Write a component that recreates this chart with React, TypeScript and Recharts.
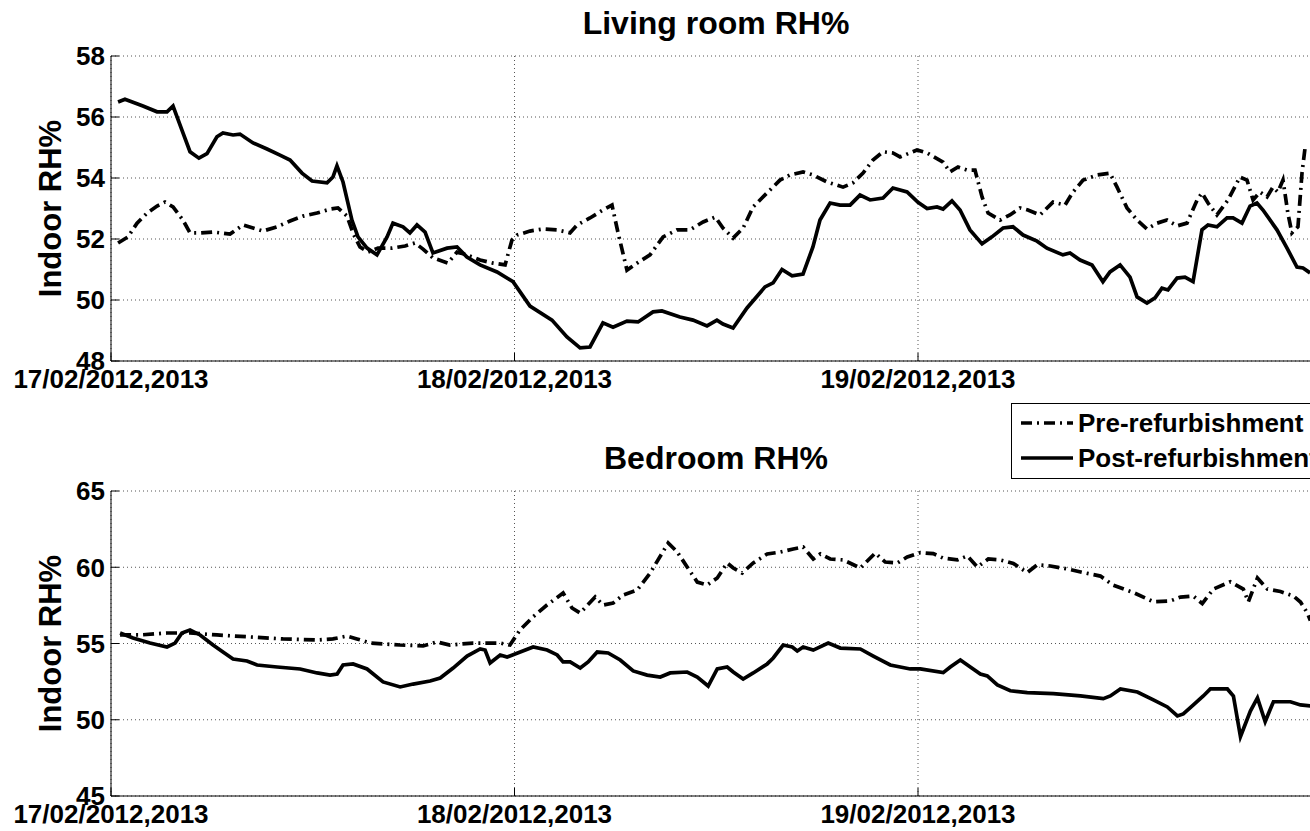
import React from 'react';
import { LineChart, Line, XAxis, YAxis, CartesianGrid, Label } from 'recharts';

// hours since 17/02 00:00 and RH%
const livingPreHours = [0.42, 1.01, 1.55, 2.14, 2.74, 3.21, 3.69, 4.28, 4.7, 5.29, 6.07, 7.08, 7.85, 8.45, 9.04, 9.87, 10.65, 11.42, 12.25, 13.03, 13.5, 14.04, 14.39, 14.81, 15.29, 15.88, 16.71, 17.49, 18.08, 18.56, 19.15, 20.04, 20.58, 21.17, 21.95, 22.72, 23.44, 23.85, 24.15, 24.92, 25.7, 26.53, 27.3, 27.72, 28.49, 29.26, 29.8, 30.16, 30.69, 31.29, 32.06, 32.84, 33.67, 34.44, 35.22, 35.94, 36.4, 37.0, 37.6, 38.19, 39.02, 39.79, 40.39, 41.16, 41.75, 42.59, 43.54, 44.13, 44.73, 45.32, 45.92, 46.51, 46.93, 47.94, 48.54, 49.49, 49.9, 50.38, 50.91, 51.39, 51.81, 52.17, 52.88, 53.47, 54.07, 54.54, 55.26, 56.03, 56.74, 57.22, 57.82, 58.65, 59.42, 59.84, 60.43, 61.03, 61.62, 62.22, 62.81, 63.41, 64.0, 64.6, 64.89, 65.25, 65.78, 66.44, 67.15, 67.57, 67.93, 68.34, 68.76, 69.11, 69.41, 69.71, 70.0, 70.24, 70.6, 70.84, 71.02, 71.2];
const livingPreRH = [51.87, 52.07, 52.52, 52.85, 53.08, 53.21, 53.05, 52.62, 52.2, 52.2, 52.23, 52.16, 52.46, 52.36, 52.26, 52.4, 52.59, 52.75, 52.85, 52.98, 53.02, 52.75, 52.2, 51.74, 51.57, 51.7, 51.7, 51.77, 51.87, 51.67, 51.38, 51.21, 51.57, 51.48, 51.31, 51.21, 51.15, 51.97, 52.13, 52.26, 52.33, 52.3, 52.2, 52.46, 52.69, 52.95, 53.11, 52.2, 50.98, 51.21, 51.48, 52.07, 52.3, 52.3, 52.56, 52.72, 52.36, 52.03, 52.36, 53.05, 53.51, 53.93, 54.1, 54.2, 54.1, 53.87, 53.7, 53.84, 54.16, 54.59, 54.86, 54.82, 54.69, 54.92, 54.82, 54.52, 54.2, 54.36, 54.26, 54.26, 53.38, 52.85, 52.62, 52.79, 53.02, 52.95, 52.79, 53.21, 53.11, 53.54, 53.93, 54.1, 54.16, 53.7, 53.02, 52.62, 52.33, 52.52, 52.62, 52.43, 52.52, 53.28, 53.51, 53.18, 52.79, 53.28, 54.03, 53.93, 53.28, 53.54, 53.38, 53.7, 53.54, 53.93, 52.85, 52.2, 52.4, 54.16, 54.98, 54.92];

const livingPostHours = [0.42, 0.83, 1.9, 2.74, 3.33, 3.69, 4.22, 4.7, 5.23, 5.71, 6.3, 6.66, 7.26, 7.67, 8.45, 9.28, 10.05, 10.65, 11.36, 11.96, 12.85, 13.2, 13.44, 13.8, 14.33, 14.69, 15.23, 15.82, 16.42, 16.77, 17.37, 17.78, 18.2, 18.68, 19.15, 19.99, 20.58, 21.17, 21.95, 22.96, 23.91, 24.92, 26.23, 27.12, 27.9, 28.49, 29.26, 29.86, 30.69, 31.35, 32.24, 32.77, 33.84, 34.62, 35.45, 36.04, 36.4, 37.0, 37.83, 38.9, 39.38, 39.91, 40.51, 41.16, 41.75, 42.17, 42.77, 43.36, 43.96, 44.55, 45.15, 45.92, 46.51, 47.35, 48.0, 48.54, 49.13, 49.49, 50.02, 50.5, 51.09, 51.81, 52.4, 53.06, 53.65, 54.25, 55.08, 55.67, 56.62, 57.04, 57.64, 58.35, 59.0, 59.42, 60.02, 60.61, 61.03, 61.62, 62.1, 62.51, 62.87, 63.41, 63.88, 64.36, 64.89, 65.25, 65.78, 66.38, 66.74, 67.27, 67.75, 68.16, 68.52, 69.35, 69.95, 70.54, 70.9, 71.32];
const livingPostRH = [56.49, 56.58, 56.36, 56.17, 56.17, 56.36, 55.57, 54.86, 54.65, 54.8, 55.35, 55.48, 55.41, 55.44, 55.15, 54.95, 54.75, 54.59, 54.16, 53.9, 53.84, 54.03, 54.4, 53.87, 52.62, 52.07, 51.7, 51.48, 52.07, 52.52, 52.4, 52.2, 52.46, 52.23, 51.54, 51.7, 51.74, 51.41, 51.15, 50.92, 50.6, 49.8, 49.34, 48.79, 48.43, 48.46, 49.25, 49.11, 49.31, 49.28, 49.61, 49.64, 49.44, 49.34, 49.15, 49.34, 49.21, 49.08, 49.74, 50.43, 50.56, 51.0, 50.79, 50.85, 51.74, 52.62, 53.18, 53.11, 53.11, 53.44, 53.28, 53.34, 53.67, 53.54, 53.2, 53.0, 53.05, 52.98, 53.25, 52.95, 52.3, 51.84, 52.07, 52.36, 52.4, 52.13, 51.93, 51.7, 51.48, 51.54, 51.31, 51.15, 50.6, 50.92, 51.15, 50.75, 50.1, 49.9, 50.07, 50.39, 50.33, 50.72, 50.75, 50.6, 52.3, 52.46, 52.4, 52.69, 52.69, 52.52, 53.08, 53.18, 52.95, 52.3, 51.7, 51.08, 51.05, 50.89];

const bedroomPreHours = [0.54, 1.73, 3.33, 4.7, 6.3, 8.27, 10.23, 12.25, 13.2, 14.04, 14.63, 15.41, 17.19, 18.56, 19.39, 20.16, 21.53, 23.14, 23.73, 24.33, 25.1, 25.93, 26.89, 27.42, 27.9, 28.8, 29.27, 29.87, 30.46, 31.3, 32.07, 32.78, 33.14, 33.68, 34.27, 34.87, 35.46, 36.06, 36.65, 37.01, 37.54, 38.2, 39.03, 39.81, 40.58, 41.17, 41.77, 42.19, 42.78, 43.55, 44.57, 45.46, 46.05, 46.77, 47.36, 48.14, 48.91, 49.5, 50.34, 50.93, 51.53, 52.18, 52.9, 53.67, 54.5, 55.1, 55.87, 56.88, 57.83, 58.85, 59.62, 60.81, 62.0, 63.01, 63.61, 64.38, 64.91, 65.57, 66.58, 67.35, 67.65, 68.19, 68.78, 69.56, 70.33, 70.75, 71.16, 71.34];
const bedroomPreRH = [55.56, 55.56, 55.69, 55.69, 55.56, 55.43, 55.3, 55.23, 55.3, 55.49, 55.3, 55.03, 54.9, 54.84, 55.1, 54.9, 55.03, 55.03, 54.9, 55.89, 56.74, 57.52, 58.31, 57.33, 57.0, 58.05, 57.52, 57.66, 58.18, 58.51, 59.62, 60.93, 61.59, 61.0, 60.02, 59.03, 58.84, 59.3, 60.28, 59.95, 59.62, 60.28, 60.87, 61.0, 61.2, 61.33, 60.54, 60.87, 60.54, 60.48, 59.95, 60.93, 60.34, 60.28, 60.67, 60.96, 60.89, 60.6, 60.48, 60.74, 60.02, 60.54, 60.48, 60.25, 59.65, 60.17, 60.08, 59.89, 59.65, 59.42, 58.82, 58.34, 57.74, 57.79, 58.04, 58.11, 57.62, 58.57, 59.05, 58.57, 57.74, 59.3, 58.57, 58.41, 58.11, 57.72, 57.0, 56.5];

const bedroomPostHours = [0.54, 1.31, 2.32, 3.33, 3.81, 4.22, 4.7, 5.3, 6.07, 6.66, 7.26, 8.09, 8.69, 9.88, 11.25, 12.26, 13.03, 13.45, 13.8, 14.4, 15.23, 16.18, 17.2, 17.97, 18.98, 19.58, 20.35, 21.18, 21.96, 22.25, 22.55, 23.15, 23.56, 24.34, 25.11, 25.94, 26.54, 26.89, 27.31, 27.91, 28.38, 28.92, 29.57, 30.29, 31.06, 31.89, 32.67, 33.26, 34.27, 34.87, 35.52, 36.06, 36.65, 37.01, 37.6, 38.2, 39.03, 39.39, 39.98, 40.52, 40.82, 41.17, 41.77, 42.66, 43.38, 44.57, 45.34, 46.35, 47.54, 48.14, 49.5, 49.92, 50.52, 51.11, 51.71, 52.12, 52.72, 53.49, 54.5, 56.05, 57.66, 59.02, 59.44, 60.04, 61.05, 62.0, 62.83, 63.43, 63.78, 64.38, 64.97, 65.39, 66.4, 66.76, 67.18, 67.77, 68.19, 68.65, 69.14, 70.15, 70.75, 71.34];
const bedroomPostRH = [55.69, 55.36, 55.03, 54.77, 55.03, 55.69, 55.89, 55.56, 54.9, 54.44, 53.98, 53.85, 53.59, 53.46, 53.33, 53.07, 52.93, 53.0, 53.59, 53.66, 53.33, 52.48, 52.15, 52.34, 52.54, 52.74, 53.39, 54.18, 54.64, 54.57, 53.72, 54.25, 54.11, 54.44, 54.77, 54.57, 54.25, 53.79, 53.79, 53.39, 53.79, 54.44, 54.38, 53.92, 53.2, 52.93, 52.8, 53.07, 53.13, 52.8, 52.21, 53.33, 53.46, 53.13, 52.67, 53.07, 53.66, 54.05, 54.9, 54.77, 54.51, 54.77, 54.57, 55.03, 54.7, 54.64, 54.18, 53.59, 53.33, 53.33, 53.09, 53.46, 53.92, 53.46, 53.0, 52.87, 52.28, 51.9, 51.78, 51.71, 51.56, 51.38, 51.56, 52.02, 51.82, 51.3, 50.84, 50.25, 50.38, 50.97, 51.56, 52.02, 52.02, 51.56, 48.9, 50.57, 51.43, 49.88, 51.18, 51.18, 50.97, 50.9];

const dayTicks = [0, 24, 48];
const dayLabels = ['17/02/2012,2013', '18/02/2012,2013', '19/02/2012,2013'];
const livingTicks = [48, 50, 52, 54, 56, 58];
const bedroomTicks = [45, 50, 55, 60, 65];
const seriesNames = ['Pre-refurbishment', 'Post-refurbishment'];

const FONT = '"Liberation Sans", Arial, Helvetica, sans-serif';
const DASH_DOT = '11 5 2 5';

const zip = (hours: number[], rh: number[]) => hours.map((h, i) => ({ h, rh: rh[i] }));

const YTick = (props: any) => {
  const { x, y, payload } = props;
  return (
    <g>
      <line x1={x} x2={x + 8} y1={y} y2={y} stroke="#000" strokeWidth={1} />
      <text x={x - 6} y={y} dy="0.36em" textAnchor="end" fontFamily={FONT} fontWeight="bold" fontSize={26} fill="#000">
        {payload.value}
      </text>
    </g>
  );
};

const XTick = (props: any) => {
  const { x, y, payload } = props;
  const idx = dayTicks.indexOf(payload.value);
  return (
    <g>
      <line x1={x} x2={x} y1={y} y2={y - 8} stroke="#000" strokeWidth={1} />
      <text x={x} y={y + 18} dy="0.36em" textAnchor="middle" fontFamily={FONT} fontWeight="bold" fontSize={26} fill="#000">
        {dayLabels[idx]}
      </text>
    </g>
  );
};

const TopTick = (props: any) => {
  const { x, y } = props;
  return <line x1={x} x2={x} y1={y} y2={y + 8} stroke="#000" strokeWidth={1} />;
};

const yLabel = (props: any) => {
  const { viewBox } = props;
  const cx = 50;
  const cy = viewBox.y + viewBox.height / 2;
  return (
    <text x={cx} y={cy} transform={`rotate(-90 ${cx} ${cy})`} textAnchor="middle" dy="0.36em"
      fontFamily={FONT} fontWeight="bold" fontSize={31} fill="#000">
      Indoor RH%
    </text>
  );
};

interface PanelProps {
  pre: { h: number; rh: number }[];
  post: { h: number; rh: number }[];
  domain: [number, number];
  ticks: number[];
  height: number;
  top: number;
  bottom: number;
}

const Panel: React.FC<PanelProps> = ({ pre, post, domain, ticks, height, top, bottom }) => (
  <LineChart width={1340} height={height} margin={{ top, right: 18.5, bottom: 0, left: 0 }}>
    <CartesianGrid stroke="#555" strokeDasharray="1 3" />
    <XAxis type="number" dataKey="h" domain={[0, 72]} ticks={dayTicks} allowDataOverflow
      height={bottom} tickSize={0} tickMargin={0} tickLine={false} stroke="#000" tick={<XTick />} />
    <XAxis xAxisId="top" orientation="top" type="number" dataKey="h" domain={[0, 72]} ticks={dayTicks}
      allowDataOverflow height={0} tickSize={0} tickMargin={0} tickLine={false} stroke="#000" tick={<TopTick />} />
    <YAxis type="number" domain={domain} ticks={ticks} width={111} tickSize={0} tickMargin={0}
      tickLine={false} stroke="#000" tick={<YTick />}>
      <Label content={yLabel} />
    </YAxis>
    <Line data={pre} dataKey="rh" type="linear" stroke="#000" strokeWidth={3.7} strokeDasharray={DASH_DOT}
      dot={false} activeDot={false} isAnimationActive={false} />
    <Line data={post} dataKey="rh" type="linear" stroke="#000" strokeWidth={3.7}
      dot={false} activeDot={false} isAnimationActive={false} />
  </LineChart>
);

const titleStyle: React.CSSProperties = {
  position: 'absolute', left: 416, width: 600, textAlign: 'center',
  fontFamily: FONT, fontWeight: 'bold', fontSize: 32, lineHeight: '32px', color: '#000',
};

const App: React.FC = () => {
  const livingPre = zip(livingPreHours, livingPreRH);
  const livingPost = zip(livingPostHours, livingPostRH);
  const bedPre = zip(bedroomPreHours, bedroomPreRH);
  const bedPost = zip(bedroomPostHours, bedroomPostRH);

  return (
    <div style={{ position: 'absolute', left: 0, top: 0, width: 1310, height: 831, overflow: 'hidden', background: '#fff' }}>
      <div style={{ position: 'absolute', left: 0, top: 0 }}>
        <Panel pre={livingPre} post={livingPost} domain={[48, 58]} ticks={livingTicks} height={400} top={56} bottom={39} />
      </div>
      <div style={{ position: 'absolute', left: 0, top: 400 }}>
        <Panel pre={bedPre} post={bedPost} domain={[45, 65]} ticks={bedroomTicks} height={431} top={91} bottom={35} />
      </div>
      <div style={{ ...titleStyle, top: 7 }}>Living room RH%</div>
      <div style={{ ...titleStyle, top: 442 }}>Bedroom RH%</div>
      <div style={{ position: 'absolute', left: 1011, top: 403, width: 380, height: 76, border: '1px solid #000', background: '#fff', boxSizing: 'border-box' }}>
        {seriesNames.map((name, i) => (
          <div key={name} style={{ position: 'absolute', left: 0, top: 4 + i * 35, height: 30, width: 380 }}>
            <svg width={60} height={30} style={{ position: 'absolute', left: 8, top: 0 }}>
              <line x1={1} x2={53} y1={15} y2={15} stroke="#000" strokeWidth={3.7} strokeDasharray={i === 0 ? DASH_DOT : undefined} />
            </svg>
            <span style={{ position: 'absolute', left: 66, top: 0, lineHeight: '30px', fontFamily: FONT, fontWeight: 'bold', fontSize: 26, whiteSpace: 'nowrap', color: '#000' }}>
              {name}
            </span>
          </div>
        ))}
      </div>
    </div>
  );
};

export default App;
